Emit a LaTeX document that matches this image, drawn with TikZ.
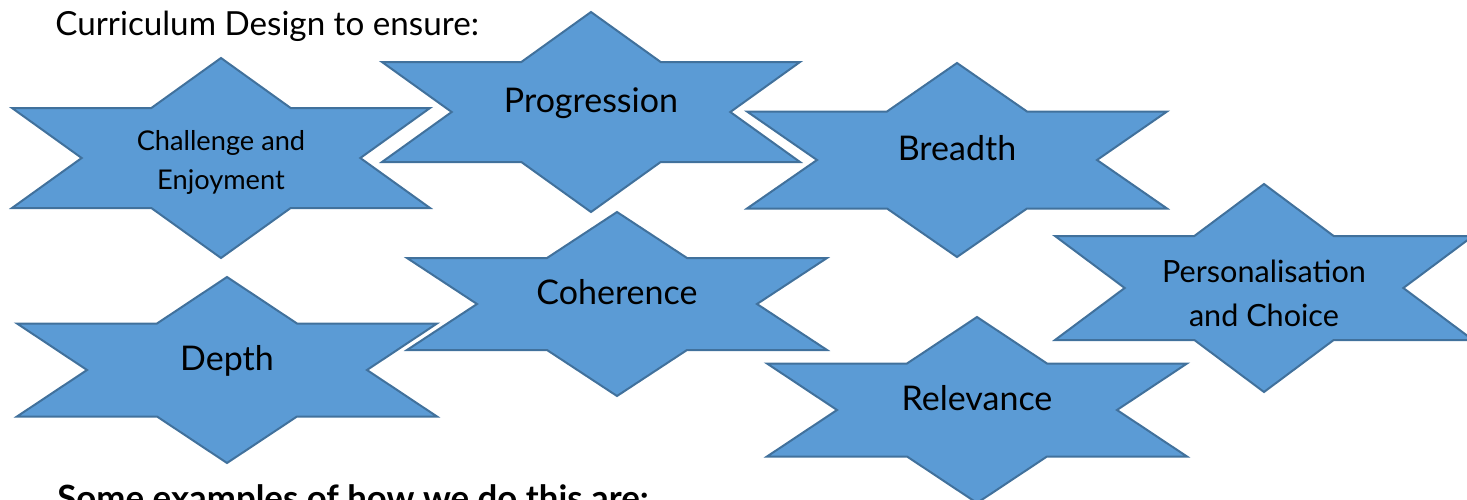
\documentclass[tikz,border=0pt]{standalone}
\usepackage{fontspec}
\setmainfont{Lato}
\usetikzlibrary{positioning}
\definecolor{starblue}{HTML}{5B9BD5}
\definecolor{starline}{HTML}{41719C}

\begin{document}
\begin{tikzpicture}[
			x=0.5pt, y=-0.5pt,
			starfill/.style={fill=starblue, draw=starline, line width=1pt, line join=miter},
			startext/.style={anchor=base, inner sep=0pt, font=\fontsize{17}{20}\selectfont},
			twoline/.style={anchor=center, align=center, inner sep=0pt},
			heading/.style={anchor=base west, inner sep=0pt, font=\fontsize{16.6}{20}\selectfont},
			pics/hexstar/.style 2 args={code={
				\path[starfill] (0,-#2) -- (#1/3,-#2/2) -- (#1,-#2/2) -- (2*#1/3,0)
					-- (#1,#2/2) -- (#1/3,#2/2) -- (0,#2) -- (-#1/3,#2/2)
					-- (-#1,#2/2) -- (-2*#1/3,0) -- (-#1,-#2/2) -- (-#1/3,-#2/2) -- cycle;
			}}
			]
			\clip (0,0) rectangle (1467,499);
			
			% Stars
			\pic at (221,158) {hexstar={209}{100}};
			\pic at (591,112) {hexstar={209}{100}};
			\pic at (957,160) {hexstar={210}{97}};
			\pic at (1264,288) {hexstar={209}{104}};
			\pic at (617,304) {hexstar={210}{92}};
			\pic at (227,370) {hexstar={210}{93}};
			\pic at (977,410) {hexstar={210}{93}};
			
			% Nodes
			\node (title) [heading] at (55,35) {Curriculum Design to ensure:};
			\node (challenge) [twoline, font=\fontsize{13.6}{19.5}\selectfont] at (221,162) {Challenge and\\Enjoyment};
			\node (progression) [startext] at (591,112) {Progression};
			\node (breadth) [startext] at (957,160) {Breadth};
			\node (personal) [twoline, font=\fontsize{15.3}{22}\selectfont] at (1264,293) {Personalisation\\and Choice};
			\node (coherence) [startext] at (617,304) {Coherence};
			\node (depth) [startext] at (227,370) {Depth};
			\node (relevance) [startext] at (977,410) {Relevance};
			\node (examples) [heading, font=\bfseries\fontsize{17.4}{20}\selectfont] at (57,510) {Some examples of how we do this are:};
			
		\end{tikzpicture}
\end{document}
